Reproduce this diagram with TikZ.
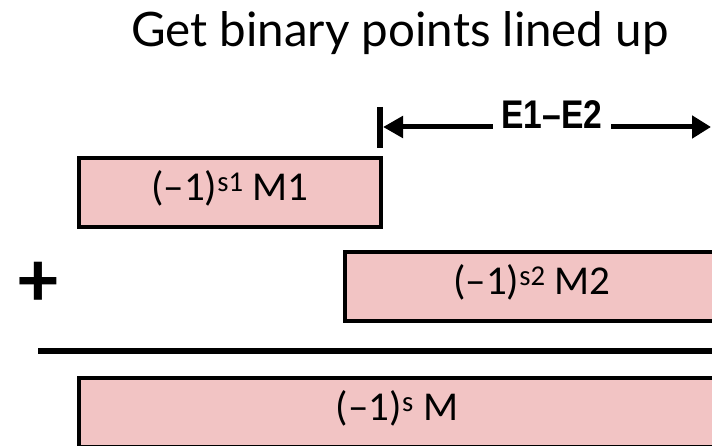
\documentclass[tikz,border=0pt]{standalone}
\usepackage{fontspec}
\setmainfont{Carlito}
\newfontfamily\titlefont{Lato}
\newfontfamily\labelfont{Liberation Sans}
\usetikzlibrary{arrows.meta}
\definecolor{boxpink}{HTML}{F2C4C4}
\begin{document}
\begin{tikzpicture}[x=1pt,y=-1pt,
  mbox/.style={draw=black, line width=4pt, fill=boxpink, inner sep=0pt, outer sep=0pt,
    font=\fontsize{41}{48}\selectfont, text height=30pt, text depth=14pt},
  dimline/.style={line width=5pt, {Triangle[length=20pt,width=21pt]}-{Triangle[length=19pt,width=22pt]}},
  lbl/.style={font=\labelfont\bfseries\fontsize{40}{46}\selectfont, xscale=0.84, inner sep=0pt, anchor=base}]
\useasboundingbox (0,0) rectangle (712,446);
\clip (0,0) rectangle (712,446);
\fill[white] (0,0) rectangle (712,446);

% title
\node[font=\titlefont\fontsize{47.5}{54}\selectfont, anchor=base, inner sep=0pt] (title) at (400,47) {Get binary points lined up};

% dimension marker
\coordinate (tickT) at (380,107);
\coordinate (tickB) at (380,148);
\coordinate (dimL) at (383,127);
\coordinate (dimR) at (711,127);
\draw[line width=6pt] (tickT) -- (tickB);
\draw[dimline] (dimL) -- (dimR);
\node[lbl, fill=white, inner xsep=10pt] (diff) at (552,129) {E1–E2};

% operand boxes
\node[mbox, minimum width=302pt, minimum height=69pt] (m1) at (230,193) {(–1)\textsuperscript{s1} M1};
\node[mbox, minimum width=374pt, minimum height=69pt] (m2) at (532,286.5) {(–1)\textsuperscript{s2} M2};

% plus sign
\node[font=\bfseries\fontsize{80}{90}\selectfont, inner sep=0pt] (plus) at (38,284) {+};

% sum line
\coordinate (lineL) at (38,351);
\coordinate (lineR) at (712,351);
\draw[line width=6pt] (lineL) -- (lineR);

% result box
\node[mbox, minimum width=636pt, minimum height=69pt] (m) at (397,412.5) {(–1)\textsuperscript{s} M};
\end{tikzpicture}
\end{document}
